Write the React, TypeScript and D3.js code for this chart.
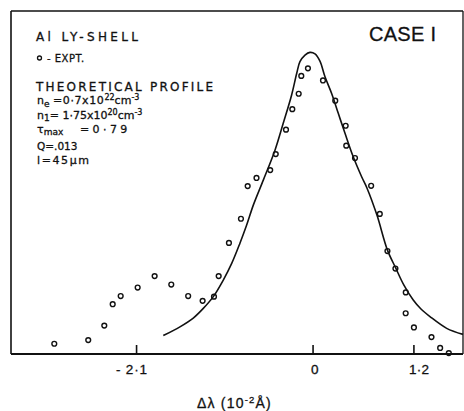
import React from 'react';
import * as d3 from 'd3';

// Experimental points (Δλ in 10^-2 Å, relative intensity)
const exptX = [-3.079, -2.675, -2.484, -2.384, -2.289, -2.087, -1.885, -1.687, -1.486, -1.314, -1.179, -1.123, -1.001, -0.858, -0.778, -0.673, -0.510, -0.444, -0.322, -0.247, -0.171, -0.140, -0.061, 0.118, 0.264, 0.388, 0.395, 0.499, 0.691, 0.794, 0.885, 0.980, 1.103, 1.102, 1.200, 1.409, 1.512, 1.615];
const exptY = [0.034, 0.046, 0.094, 0.165, 0.192, 0.220, 0.258, 0.230, 0.192, 0.176, 0.190, 0.258, 0.368, 0.448, 0.556, 0.583, 0.609, 0.662, 0.743, 0.811, 0.862, 0.921, 0.946, 0.906, 0.839, 0.756, 0.690, 0.649, 0.557, 0.464, 0.341, 0.283, 0.204, 0.135, 0.088, 0.056, 0.020, 0.003];

// Theoretical profile
const theoryX = [-1.782, -1.584, -1.425, -1.306, -1.187, -1.068, -0.968, -0.870, -0.790, -0.711, -0.592, -0.453, -0.355, -0.255, -0.195, -0.156, -0.096, -0.037, 0.023, 0.082, 0.142, 0.221, 0.300, 0.380, 0.478, 0.578, 0.641, 0.760, 0.885, 0.983, 1.081, 1.192, 1.284, 1.391, 1.590, 1.784];
const theoryY = [0.061, 0.090, 0.119, 0.151, 0.190, 0.245, 0.300, 0.367, 0.427, 0.493, 0.576, 0.675, 0.764, 0.858, 0.929, 0.968, 0.990, 0.999, 0.994, 0.970, 0.918, 0.863, 0.797, 0.731, 0.653, 0.587, 0.550, 0.460, 0.344, 0.285, 0.228, 0.179, 0.149, 0.124, 0.085, 0.065];

const tickValues = [-2.1, 0, 1.2];
const tickLabels = ['- 2·1', '0', '1·2'];
const tickLabelStart = [116, 311, 409];
const tickLabelLen = [31, 8, 20];

const W = 464;
const H = 411;
const X0 = 11, X1 = 463, Y0 = 354, Y1 = 11;

export default function App() {
  const x = d3.scaleLinear().domain([-3.594, 1.784]).range([X0, X1]);
  const y = d3.scaleLinear().domain([0, 1.136]).range([Y0, Y1]);
  const line = d3
    .line<number>()
    .x((_, i) => x(theoryX[i]))
    .y((d) => y(d))
    .curve(d3.curveCatmullRom.alpha(0.5));
  const pathD = line(theoryY) || '';
  const font = "'Liberation Sans', Arial, sans-serif";
  const dv = "'DejaVu Sans', sans-serif";
  const ts = { stroke: '#111', strokeWidth: 0.3 } as const;

  return (
    <svg
      width={W}
      height={H}
      style={{ position: 'absolute', left: 0, top: 0, background: '#fff' }}
      fontFamily={font}
    >
      <rect x={0} y={0} width={W} height={H} fill="#fff" />
      {/* frame */}
      <line x1={X0} y1={Y1} x2={X1} y2={Y1} stroke="#111" strokeWidth={1.3} />
      <line x1={X0} y1={Y1} x2={X0} y2={Y0} stroke="#111" strokeWidth={1.6} />
      <line x1={X1} y1={Y1} x2={X1} y2={Y0} stroke="#111" strokeWidth={1.3} />
      <line x1={X0} y1={Y0} x2={X1} y2={Y0} stroke="#111" strokeWidth={2} />
      {/* ticks */}
      {tickValues.map((t, i) => (
        <g key={i}>
          <line x1={x(t)} x2={x(t)} y1={Y0} y2={Y0 - 9} stroke="#111" strokeWidth={1.6} />
          <text
            x={tickLabelStart[i]}
            y={374}
            fontSize={13.5}
            fill="#111"
            {...ts}
            textLength={tickLabelLen[i]}
            lengthAdjust="spacing"
          >
            {tickLabels[i]}
          </text>
        </g>
      ))}
      {/* axis label */}
      <text x={197} y={408} fontSize={14} fill="#111" {...ts} letterSpacing={1.2}>
        Δλ (10<tspan dy={-5} fontSize={9.5}>-2</tspan>
        <tspan dy={5}>Å)</tspan>
      </text>
      {/* theory curve */}
      <path d={pathD} fill="none" stroke="#111" strokeWidth={1.6} />
      {/* experimental points */}
      {exptY.map((v, i) => (
        <circle key={i} cx={x(exptX[i])} cy={y(v)} r={2.4} fill="none" stroke="#111" strokeWidth={1.4} />
      ))}
      {/* case label */}
      <text x={369} y={40.5} fontSize={20} textLength={67} lengthAdjust="spacing" fill="#111" {...ts}>
        CASE I
      </text>
      {/* legend / annotations */}
      <g fill="#111" fontFamily={dv} {...ts}>
        <text x={36} y={40.5} fontSize={12} textLength={102} lengthAdjust="spacing">
          Al LY-SHELL
        </text>
        <circle cx={39.5} cy={58} r={2} fill="none" stroke="#111" strokeWidth={1.3} />
        <text x={47} y={62} fontSize={10} letterSpacing={0.5}>
          - EXPT.
        </text>
        <text x={36} y={91} fontSize={12} textLength={177} lengthAdjust="spacing">
          THEORETICAL PROFILE
        </text>
        <text x={37} y={104} fontSize={11}>
          n<tspan dy={2.5} fontSize={9}>e</tspan>
          <tspan dy={-2.5} x={53} letterSpacing={0.6}>=0·7x10</tspan>
          <tspan dy={-4} fontSize={8}>22</tspan>
          <tspan dy={4}>cm</tspan>
          <tspan dy={-4} fontSize={8}>-3</tspan>
        </text>
        <text x={37} y={119} fontSize={11}>
          n<tspan dy={2} fontSize={9}>1</tspan>
          <tspan dy={-2}>= 1·75x10</tspan>
          <tspan dy={-4} fontSize={8}>20</tspan>
          <tspan dy={4}>cm</tspan>
          <tspan dy={-4} fontSize={8}>-3</tspan>
        </text>
        <text x={37} y={132.5} fontSize={11}>
          τ<tspan dy={2.5} fontSize={9}>max</tspan>
          <tspan dy={-2.5} x={80} letterSpacing={3.4}>=0·79</tspan>
        </text>
        <text x={37} y={150} fontSize={10.5}>
          Q=.013
        </text>
        <text x={37} y={163.5} fontSize={11} letterSpacing={1.6}>
          l=45μm
        </text>
      </g>
    </svg>
  );
}
